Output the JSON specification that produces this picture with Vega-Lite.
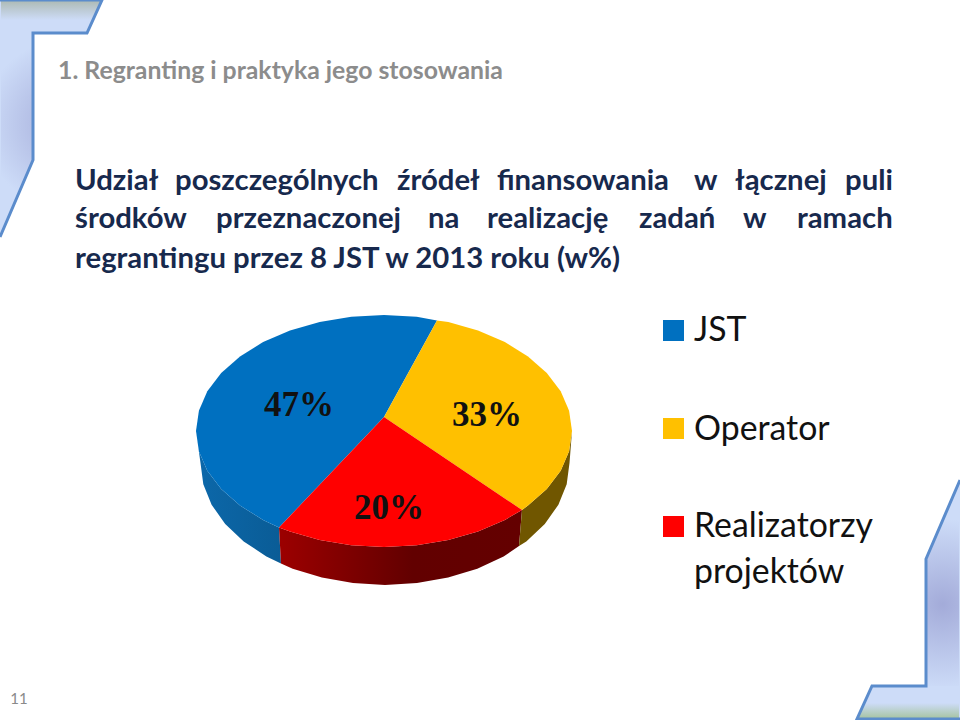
{"$schema":"https://vega.github.io/schema/vega-lite/v6.json","width":960,"height":720,"padding":0,"autosize":{"type":"none"},"background":"white","view":{"stroke":null},
"datasets":{
"poly":[
{"s":"f1","i":0,"x":0,"y":0},{"s":"f1","i":1,"x":102,"y":0},{"s":"f1","i":2,"x":87,"y":33},{"s":"f1","i":3,"x":33,"y":33},{"s":"f1","i":4,"x":33,"y":160},{"s":"f1","i":5,"x":0,"y":237},
{"s":"f1b","i":0,"x":1,"y":33},{"s":"f1b","i":1,"x":33,"y":33},{"s":"f1b","i":2,"x":33,"y":160},{"s":"f1b","i":3,"x":1,"y":235},
{"s":"f1t","i":0,"x":1,"y":1},{"s":"f1t","i":1,"x":101,"y":1},{"s":"f1t","i":2,"x":92,"y":20},{"s":"f1t","i":3,"x":1,"y":20},
{"s":"f2","i":0,"x":960,"y":480},{"s":"f2","i":1,"x":926,"y":559},{"s":"f2","i":2,"x":926,"y":686},{"s":"f2","i":3,"x":872,"y":686},{"s":"f2","i":4,"x":857,"y":719},{"s":"f2","i":5,"x":960,"y":719},
{"s":"f2b","i":0,"x":959,"y":482},{"s":"f2b","i":1,"x":926,"y":559},{"s":"f2b","i":2,"x":926,"y":686},{"s":"f2b","i":3,"x":959,"y":686},
{"s":"f2t","i":0,"x":865,"y":703},{"s":"f2t","i":1,"x":959,"y":703},{"s":"f2t","i":2,"x":959,"y":719},{"s":"f2t","i":3,"x":857,"y":719},
{"s":"sb","i":0,"x":196,"y":431},{"s":"sb","i":1,"x":198.9,"y":451.2},{"s":"sb","i":2,"x":207.3,"y":470.7},{"s":"sb","i":3,"x":221.2,"y":489},{"s":"sb","i":4,"x":240,"y":505.6},{"s":"sb","i":5,"x":263.1,"y":519.9},{"s":"sb","i":6,"x":279,"y":527.5},{"s":"sb","i":7,"x":281,"y":563.5},{"s":"sb","i":8,"x":266.4,"y":556.5},{"s":"sb","i":9,"x":243.7,"y":541.4},{"s":"sb","i":10,"x":225.2,"y":524},{"s":"sb","i":11,"x":211.6,"y":504.7},{"s":"sb","i":12,"x":203.3,"y":484.2},{"s":"sb","i":13,"x":200.5,"y":463},
{"s":"sr","i":0,"x":279,"y":527.5},{"s":"sr","i":1,"x":290,"y":531.5},{"s":"sr","i":2,"x":319.7,"y":540},{"s":"sr","i":3,"x":351.3,"y":545.3},{"s":"sr","i":4,"x":384,"y":547},{"s":"sr","i":5,"x":416.7,"y":545.3},{"s":"sr","i":6,"x":448.3,"y":540},{"s":"sr","i":7,"x":478,"y":531.5},{"s":"sr","i":8,"x":504.9,"y":519.9},{"s":"sr","i":9,"x":522,"y":510},{"s":"sr","i":10,"x":519,"y":546},{"s":"sr","i":11,"x":503.6,"y":556.5},{"s":"sr","i":12,"x":477.3,"y":568.7},{"s":"sr","i":13,"x":448.1,"y":577.6},{"s":"sr","i":14,"x":417,"y":583.1},{"s":"sr","i":15,"x":385,"y":585},{"s":"sr","i":16,"x":353,"y":583.1},{"s":"sr","i":17,"x":321.9,"y":577.6},{"s":"sr","i":18,"x":292.7,"y":568.7},{"s":"sr","i":19,"x":281,"y":563.5},
{"s":"sg","i":0,"x":522,"y":510},{"s":"sg","i":1,"x":528,"y":505.6},{"s":"sg","i":2,"x":546.8,"y":489},{"s":"sg","i":3,"x":560.7,"y":470.7},{"s":"sg","i":4,"x":569.1,"y":451.2},{"s":"sg","i":5,"x":572,"y":431},{"s":"sg","i":6,"x":569.5,"y":463},{"s":"sg","i":7,"x":566.7,"y":484.2},{"s":"sg","i":8,"x":558.4,"y":504.7},{"s":"sg","i":9,"x":544.8,"y":524},{"s":"sg","i":10,"x":526.3,"y":541.4},{"s":"sg","i":11,"x":519,"y":546},
{"s":"JST","i":0,"x":384,"y":417},{"s":"JST","i":1,"x":437,"y":320.5},{"s":"JST","i":2,"x":416.7,"y":316.7},{"s":"JST","i":3,"x":384,"y":315},{"s":"JST","i":4,"x":351.3,"y":316.7},{"s":"JST","i":5,"x":319.7,"y":322},{"s":"JST","i":6,"x":290,"y":330.5},{"s":"JST","i":7,"x":263.1,"y":342.1},{"s":"JST","i":8,"x":240,"y":356.4},{"s":"JST","i":9,"x":221.2,"y":373},{"s":"JST","i":10,"x":207.3,"y":391.3},{"s":"JST","i":11,"x":198.9,"y":410.8},{"s":"JST","i":12,"x":196,"y":431},{"s":"JST","i":13,"x":198.9,"y":451.2},{"s":"JST","i":14,"x":207.3,"y":470.7},{"s":"JST","i":15,"x":221.2,"y":489},{"s":"JST","i":16,"x":240,"y":505.6},{"s":"JST","i":17,"x":263.1,"y":519.9},{"s":"JST","i":18,"x":279,"y":527.5},
{"s":"Operator","i":0,"x":384,"y":417},{"s":"Operator","i":1,"x":522,"y":510},{"s":"Operator","i":2,"x":528,"y":505.6},{"s":"Operator","i":3,"x":546.8,"y":489},{"s":"Operator","i":4,"x":560.7,"y":470.7},{"s":"Operator","i":5,"x":569.1,"y":451.2},{"s":"Operator","i":6,"x":572,"y":431},{"s":"Operator","i":7,"x":569.1,"y":410.8},{"s":"Operator","i":8,"x":560.7,"y":391.3},{"s":"Operator","i":9,"x":546.8,"y":373},{"s":"Operator","i":10,"x":528,"y":356.4},{"s":"Operator","i":11,"x":504.9,"y":342.1},{"s":"Operator","i":12,"x":478,"y":330.5},{"s":"Operator","i":13,"x":448.3,"y":322},{"s":"Operator","i":14,"x":437,"y":320.5},
{"s":"Realizatorzy","i":0,"x":384,"y":417},{"s":"Realizatorzy","i":1,"x":279,"y":527.5},{"s":"Realizatorzy","i":2,"x":290,"y":531.5},{"s":"Realizatorzy","i":3,"x":319.7,"y":540},{"s":"Realizatorzy","i":4,"x":351.3,"y":545.3},{"s":"Realizatorzy","i":5,"x":384,"y":547},{"s":"Realizatorzy","i":6,"x":416.7,"y":545.3},{"s":"Realizatorzy","i":7,"x":448.3,"y":540},{"s":"Realizatorzy","i":8,"x":478,"y":531.5},{"s":"Realizatorzy","i":9,"x":504.9,"y":519.9},{"s":"Realizatorzy","i":10,"x":522,"y":510}
],
"legend":[
{"k":"JST","x":663,"x2":684,"y":320,"y2":341},
{"k":"Operator","x":663,"x2":684,"y":418,"y2":439},
{"k":"Realizatorzy","x":663,"x2":684,"y":516,"y2":537}
],
"sub":[
{"t":"Udział","x":75,"y":190},{"t":"poszczególnych","x":175,"y":190},{"t":"źródeł","x":397,"y":190},{"t":"finansowania","x":497,"y":190},{"t":"w","x":694,"y":190},{"t":"łącznej","x":735,"y":190},{"t":"puli","x":845,"y":190},
{"t":"środków","x":75,"y":228},{"t":"przeznaczonej","x":216,"y":228},{"t":"na","x":428,"y":228},{"t":"realizację","x":487,"y":228},{"t":"zadań","x":639,"y":228},{"t":"w","x":743,"y":228},{"t":"ramach","x":797,"y":228},
{"t":"regrantingu przez 8 JST w 2013 roku (w%)","x":75,"y":268}
],
"pct":[{"t":"47%","x":299,"y":416},{"t":"33%","x":487,"y":426},{"t":"20%","x":389,"y":519}],
"leg":[{"t":"JST","x":694,"y":341},{"t":"Operator","x":694,"y":440},{"t":"Realizatorzy","x":694,"y":537},{"t":"projektów","x":694,"y":583}],
"head":[{"t":"1. Regranting i praktyka jego stosowania","x":58,"y":79}],
"pg":[{"t":"11","x":19,"y":704}]
},
"encoding":{
"x":{"field":"x","type":"quantitative","axis":null,"scale":{"domain":[0,960],"nice":false,"zero":false}},
"y":{"field":"y","type":"quantitative","axis":null,"scale":{"domain":[720,0],"nice":false,"zero":false}}
},
"layer":[
{"data":{"name":"poly"},"transform":[{"filter":"datum.s==='f1'"}],"mark":{"type":"line","fill":"#cddcf8","strokeWidth":0},"encoding":{"order":{"field":"i"}}},
{"data":{"name":"poly"},"transform":[{"filter":"datum.s==='f1b'"}],"mark":{"type":"line","strokeWidth":0,"fill":{"gradient":"radial","x1":0.75,"y1":0.45,"r1":0,"x2":0.75,"y2":0.45,"r2":0.42,"stops":[{"offset":0,"color":"#a3abd9"},{"offset":1,"color":"#cddcf8"}]}},"encoding":{"order":{"field":"i"}}},
{"data":{"name":"poly"},"transform":[{"filter":"datum.s==='f1t'"}],"mark":{"type":"line","strokeWidth":0,"fill":{"gradient":"linear","x1":0,"y1":0,"x2":0,"y2":1,"stops":[{"offset":0,"color":"#aebbb6"},{"offset":1,"color":"#cddcf8"}]}},"encoding":{"order":{"field":"i"}}},
{"data":{"name":"poly"},"transform":[{"filter":"datum.s==='f2'"}],"mark":{"type":"line","fill":"#cddcf8","strokeWidth":0},"encoding":{"order":{"field":"i"}}},
{"data":{"name":"poly"},"transform":[{"filter":"datum.s==='f2b'"}],"mark":{"type":"line","strokeWidth":0,"fill":{"gradient":"radial","x1":0.5,"y1":0.6,"r1":0,"x2":0.5,"y2":0.6,"r2":0.42,"stops":[{"offset":0,"color":"#a3abd9"},{"offset":1,"color":"#cddcf8"}]}},"encoding":{"order":{"field":"i"}}},
{"data":{"name":"poly"},"transform":[{"filter":"datum.s==='f2t'"}],"mark":{"type":"line","strokeWidth":0,"fill":{"gradient":"linear","x1":0,"y1":0,"x2":0,"y2":1,"stops":[{"offset":0,"color":"#cddcf8"},{"offset":1,"color":"#a5c39e"}]}},"encoding":{"order":{"field":"i"}}},
{"data":{"name":"poly"},"transform":[{"filter":"datum.s==='f1'"}],"mark":{"type":"line","stroke":"#5b8ccc","strokeWidth":3},"encoding":{"order":{"field":"i"}}},
{"data":{"name":"poly"},"transform":[{"filter":"datum.s==='f2'"}],"mark":{"type":"line","stroke":"#5b8ccc","strokeWidth":3},"encoding":{"order":{"field":"i"}}},
{"data":{"name":"poly"},"transform":[{"filter":"datum.s==='sb'"}],"mark":{"type":"line","strokeWidth":0,"fill":{"gradient":"linear","x1":0,"y1":0,"x2":1,"y2":0,"stops":[{"offset":0,"color":"#0c68aa"},{"offset":1,"color":"#0a5c96"}]}},"encoding":{"order":{"field":"i"}}},
{"data":{"name":"poly"},"transform":[{"filter":"datum.s==='sr'"}],"mark":{"type":"line","strokeWidth":0,"fill":{"gradient":"linear","x1":0,"y1":0,"x2":1,"y2":0,"stops":[{"offset":0,"color":"#9c0000"},{"offset":0.55,"color":"#620000"},{"offset":1,"color":"#640000"}]}},"encoding":{"order":{"field":"i"}}},
{"data":{"name":"poly"},"transform":[{"filter":"datum.s==='sg'"}],"mark":{"type":"line","strokeWidth":0,"fill":"#705600"},"encoding":{"order":{"field":"i"}}},
{"data":{"name":"poly"},"transform":[{"filter":"datum.s==='JST'"}],"mark":{"type":"line","strokeWidth":0,"fill":"#0070c0"},"encoding":{"order":{"field":"i"}}},
{"data":{"name":"poly"},"transform":[{"filter":"datum.s==='Operator'"}],"mark":{"type":"line","strokeWidth":0,"fill":"#ffc000"},"encoding":{"order":{"field":"i"}}},
{"data":{"name":"poly"},"transform":[{"filter":"datum.s==='Realizatorzy'"}],"mark":{"type":"line","strokeWidth":0,"fill":"#ff0000"},"encoding":{"order":{"field":"i"}}},
{"data":{"name":"legend"},"mark":{"type":"rect"},"encoding":{"x2":{"field":"x2"},"y2":{"field":"y2"},"fill":{"field":"k","type":"nominal","legend":null,"scale":{"domain":["JST","Operator","Realizatorzy"],"range":["#0070c0","#ffc000","#ff0000"]}}}},
{"data":{"name":"head"},"mark":{"type":"text","align":"left","baseline":"alphabetic","font":"Lato","fontWeight":"bold","fontSize":24.8,"fill":"#8c8c8c"},"encoding":{"text":{"field":"t"}}},
{"data":{"name":"sub"},"mark":{"type":"text","align":"left","baseline":"alphabetic","font":"Lato","fontWeight":"bold","fontSize":29.3,"fill":"#17294d"},"encoding":{"text":{"field":"t"}}},
{"data":{"name":"pct"},"mark":{"type":"text","align":"center","baseline":"alphabetic","font":"Liberation Serif","fontWeight":"bold","fontSize":35,"fill":"#111111"},"encoding":{"text":{"field":"t"}}},
{"data":{"name":"leg"},"mark":{"type":"text","align":"left","baseline":"alphabetic","font":"Lato","fontSize":33.8,"fill":"#111111"},"encoding":{"text":{"field":"t"}}},
{"data":{"name":"pg"},"mark":{"type":"text","align":"center","baseline":"alphabetic","font":"Lato","fontSize":15,"fill":"#8a8a8a"},"encoding":{"text":{"field":"t"}}}
]}
